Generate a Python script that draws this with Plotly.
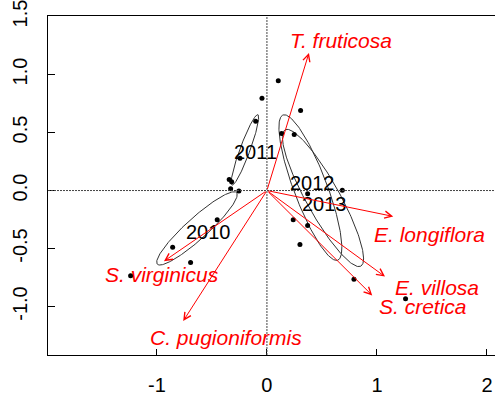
import numpy as np
import plotly.graph_objects as go

# ---- data ----
site_x = [-0.045, -0.102, -0.245, -0.343, -0.321, -0.330, -0.255, -0.452, -0.857, -0.694, -1.239,
          0.103, 0.306, 0.133, 0.248, 0.685, 0.370, 0.239, 0.370, 0.300, 0.791, 1.260]
site_y = [0.796, 0.597, 0.279, 0.095, 0.075, 0.015, -0.004, -0.251, -0.489, -0.620, -0.734,
          0.946, 0.691, 0.492, 0.484, 0.002, -0.027, -0.251, -0.302, -0.466, -0.764, -0.932]

years = ["2010", "2011", "2012", "2013"]
year_label_x = [-0.534, -0.105, 0.412, 0.527]
year_label_y = [-0.359, 0.336, 0.061, -0.117]
# ellipse: ends of the major axis and minor semi-axis
ell_x1 = [-0.275, -0.082, 0.145, 0.164]
ell_y1 = [-0.019, 0.654, 0.651, 0.523]
ell_x2 = [-0.997, -0.318, 0.645, 0.855]
ell_y2 = [-0.634, 0.047, -0.600, -0.651]
ell_b = [0.095, 0.045, 0.15, 0.15]

species = ["T. fruticosa", "E. longiflora", "E. villosa", "S. cretica", "S. virginicus", "C. pugioniformis"]
arrow_x = [0.382, 1.148, 1.073, 0.957, -0.936, -0.761]
arrow_y = [1.187, -0.223, -0.742, -0.904, -0.609, -1.125]
sp_label_x = [0.673, 1.474, 1.543, 1.414, -0.957, -0.370]
sp_label_y = [1.298, -0.379, -0.838, -1.004, -0.728, -1.266]

x_ticks = [-1, 0, 1, 2]
x_tick_text = ["-1", "0", "1", "2"]
y_ticks = [-1.0, -0.5, 0.0, 0.5, 1.0, 1.5]
y_tick_text = ["-1.0", "-0.5", "0.0", "0.5", "1.0", "1.5"]

x_range = [-1.99, 2.073]
y_range = [-1.418, 1.505]

FONT = "Liberation Sans, Arial, sans-serif"
RED = "#FF0000"

fig = go.Figure()

# ellipses
t = np.linspace(0, 2 * np.pi, 200)
for i in range(len(years)):
    p1 = np.array([ell_x1[i], ell_y1[i]])
    p2 = np.array([ell_x2[i], ell_y2[i]])
    c = (p1 + p2) / 2
    u = (p2 - p1) / 2
    a = np.hypot(*u)
    v = np.array([-u[1], u[0]]) / a * ell_b[i]
    ex = c[0] + np.cos(t) * u[0] + np.sin(t) * v[0]
    ey = c[1] + np.cos(t) * u[1] + np.sin(t) * v[1]
    fig.add_trace(go.Scatter(x=ex, y=ey, mode="lines",
                             line=dict(color="#333333", width=1),
                             hoverinfo="skip", showlegend=False))

# site points
fig.add_trace(go.Scatter(x=site_x, y=site_y, mode="markers",
                         marker=dict(color="black", size=5),
                         showlegend=False))

annotations = []
for i, yr in enumerate(years):
    annotations.append(dict(x=year_label_x[i], y=year_label_y[i], text=yr,
                            showarrow=False, xref="x", yref="y",
                            font=dict(family=FONT, size=20, color="black")))

for i, sp in enumerate(species):
    annotations.append(dict(x=arrow_x[i], y=arrow_y[i], ax=0, ay=0,
                            xref="x", yref="y", axref="x", ayref="y",
                            text="", showarrow=True, arrowhead=5, arrowsize=1.4,
                            arrowwidth=1, arrowcolor=RED, standoff=0, startstandoff=0))
    annotations.append(dict(x=sp_label_x[i], y=sp_label_y[i],
                            text="<i>" + sp + "</i>", showarrow=False,
                            xref="x", yref="y",
                            font=dict(family=FONT, size=21, color=RED)))

shapes = [
    dict(type="line", xref="x", yref="paper", x0=0, x1=0, y0=0, y1=1,
         line=dict(color="#444444", width=1, dash="2px,1px")),
    dict(type="line", xref="paper", yref="y", x0=0, x1=1, y0=0, y1=0,
         line=dict(color="#444444", width=1, dash="2px,1px")),
]

fig.update_layout(
    width=495, height=396,
    margin=dict(l=48, r=0, t=13, b=39),
    paper_bgcolor="white", plot_bgcolor="white",
    annotations=annotations, shapes=shapes,
    font=dict(family=FONT, size=20, color="black"),
    xaxis=dict(range=x_range, tickvals=x_ticks, ticktext=x_tick_text,
               showgrid=False, zeroline=False, showline=True, mirror=True,
               linecolor="black", linewidth=1, ticks="inside", ticklen=6,
               tickcolor="black", ticklabelstandoff=12, ticklabeloverflow="allow",
               tickfont=dict(family=FONT, size=20, color="black")),
    yaxis=dict(range=y_range, tickvals=y_ticks, ticktext=y_tick_text,
               showgrid=False, zeroline=False, showline=True, mirror=False,
               linecolor="black", linewidth=1, ticks="inside", ticklen=7,
               tickcolor="black", tickangle=-90, ticklabelstandoff=12,
               ticklabeloverflow="allow",
               tickfont=dict(family=FONT, size=20, color="black")),
)

fig.write_html("out.html")
